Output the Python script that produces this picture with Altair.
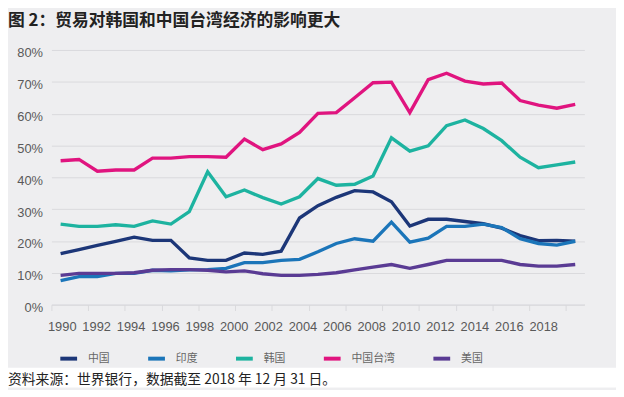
import altair as alt
import pandas as pd

# ---------------- data (values in %) ----------------
years = list(range(1990, 2019))
series_names = ['中国', '印度', '韩国', '中国台湾', '美国']
series_colors = ['#1c3678', '#1b75b9', '#1db3a0', '#e0147f', '#5a3b94']

china = [16.0, 17.3, 18.6, 19.9, 21.2, 20.2, 20.2, 14.7, 13.9, 13.9,
         16.2, 15.8, 16.8, 27.2, 31.1, 33.7, 35.8, 35.4, 32.3, 24.7,
         26.8, 26.8, 26.1, 25.4, 24.0, 21.7, 20.1, 20.2, 19.9]
india = [7.5, 8.8, 8.8, 9.8, 9.8, 10.8, 10.6, 10.9, 11.0, 11.4,
         13.2, 13.2, 13.9, 14.2, 16.6, 19.2, 20.7, 19.9, 25.9, 19.6,
         20.9, 24.6, 24.6, 25.3, 24.2, 20.7, 19.2, 18.7, 19.9]
korea = [25.3, 24.6, 24.6, 25.1, 24.6, 26.3, 25.3, 29.2, 41.7, 33.9,
         36.0, 33.6, 31.6, 33.9, 39.6, 37.5, 37.8, 40.4, 52.4, 48.2,
         49.9, 56.2, 58.0, 55.3, 51.5, 46.3, 43.0, 43.9, 44.8]
taiwan = [45.2, 45.6, 41.9, 42.3, 42.3, 46.0, 46.0, 46.5, 46.5, 46.3,
          52.0, 48.7, 50.5, 54.1, 60.1, 60.3, 65.0, 69.7, 69.9, 60.3,
          70.7, 72.7, 70.2, 69.3, 69.6, 64.1, 62.7, 61.7, 62.9]
usa = [9.2, 9.8, 9.8, 9.8, 10.0, 10.8, 11.0, 11.0, 10.8, 10.3,
       10.6, 9.7, 9.2, 9.2, 9.5, 10.0, 10.9, 11.8, 12.6, 11.4,
       12.6, 13.9, 13.9, 13.9, 13.9, 12.6, 12.1, 12.1, 12.6]

y_ticks = [0, 0.1, 0.2, 0.3, 0.4, 0.5, 0.6, 0.7, 0.8]
x_label_years = list(range(1990, 2019, 2))
title_text = '图 2：贸易对韩国和中国台湾经济的影响更大'
source_text = '资料来源：世界银行，数据截至 2018 年 12 月 31 日。'

# ---------------- build table ----------------
rows = []
for name, vals in zip(series_names, [china, india, korea, taiwan, usa]):
    for yr, v in zip(years, vals):
        rows.append({'year': yr, 'country': name, 'value': v / 100})
df = pd.DataFrame(rows)
lab_df = pd.DataFrame({'label_year': x_label_years})
src_df = pd.DataFrame({'note': [source_text]})

W, H = 540, 258
BG = '#eeeef0'
GRID = '#d9d9dc'
SP = '\u3000'

label_expr = (
    "datum.label == '韩国' ? datum.label + '" + SP * 5 + "' : "
    "(datum.label == '中国台湾' ? datum.label + '" + SP * 2 + "' : "
    "((datum.label == '中国' || datum.label == '印度') ? datum.label + '" + SP + "' : datum.label))"
)

lines = alt.Chart(df).mark_line(strokeWidth=3.4).encode(
    x=alt.X('year:Q',
            scale=alt.Scale(domain=[1989.5, 2018.5], nice=False, zero=False),
            axis=alt.Axis(values=[1989.5 + 2 * k for k in range(15)], labels=False,
                          ticks=True, tickSize=6, tickColor=GRID, domain=True,
                          domainColor=GRID, grid=False, title=None, orient='bottom')),
    y=alt.Y('value:Q',
            scale=alt.Scale(domain=[0, 0.8], nice=False),
            axis=alt.Axis(values=y_ticks, format='.0%', grid=True, gridColor=GRID,
                          domain=False, ticks=False, tickSize=0, labelPadding=9,
                          labelOffset=3, title=None)),
    color=alt.Color('country:N',
                    scale=alt.Scale(domain=series_names, range=series_colors),
                    sort=series_names,
                    legend=alt.Legend(orient='none', legendX=7, legendY=302,
                                      direction='horizontal', title=None,
                                      symbolType='stroke', symbolSize=289,
                                      symbolStrokeWidth=4, labelFont='Noto Sans CJK SC',
                                      labelFontSize=11, labelColor='#666666',
                                      labelOffset=9, columnPadding=31, padding=0,
                                      labelExpr=label_expr)),
)

labels_layer = alt.Chart(lab_df).mark_point(opacity=0).encode(
    x=alt.X('label_year:Q',
            scale=alt.Scale(domain=[1989.4, 2020.4], nice=False, zero=False),
            axis=alt.Axis(values=x_label_years, format='d', orient='bottom', ticks=False,
                          tickSize=0, domain=False, grid=False, labelPadding=16,
                          title=None, labelFlush=False, labelOverlap=False)),
)

white = alt.Chart(src_df).mark_rect(color='white').encode(
    x=alt.value(-44), x2=alt.value(572), y=alt.value(322), y2=alt.value(342)
)
note = alt.Chart(src_df).mark_text(align='left', baseline='middle', font='Noto Sans CJK SC',
                                   fontSize=14, color='#222222').encode(
    text='note:N', x=alt.value(-44), y=alt.value(334)
)

chart = alt.layer(white, lines, labels_layer, note).resolve_scale(
    x='independent'
).properties(
    width=W, height=H, padding={'top': 2, 'left': 0, 'right': 0, 'bottom': 0},
    background=BG,
    title=alt.TitleParams(text=title_text, anchor='start', frame='bounds',
                          font='Noto Sans CJK SC', fontSize=17, fontWeight='bold',
                          color='#222222', offset=17)
).configure_view(stroke=None).configure_axis(
    labelFont='Liberation Sans', labelFontSize=13, labelColor='#595959'
)

chart.save('out.html', embed_options={'renderer': 'svg', 'actions': False})
